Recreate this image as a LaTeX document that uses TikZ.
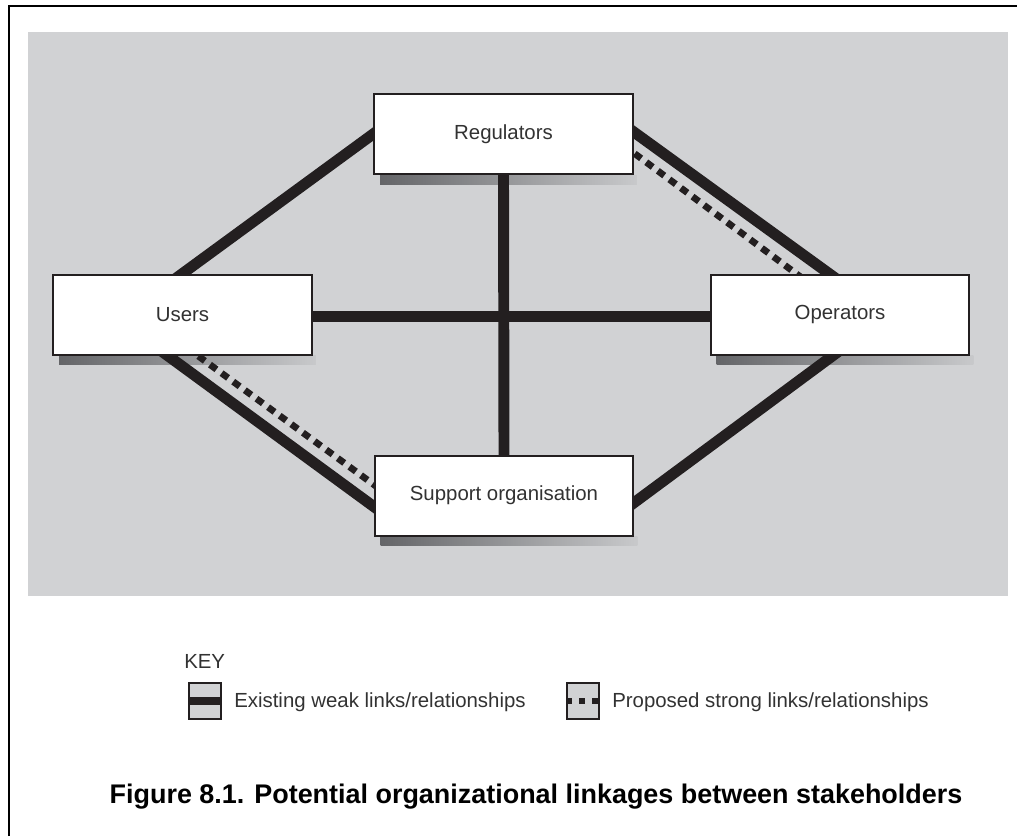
\documentclass[tikz,border=0pt]{standalone}
\usepackage{graphicx}
\usepackage{fontspec}
\setmainfont{Liberation Sans}
\usetikzlibrary{calc}
\pgfdeclarelayer{back}
\pgfdeclarelayer{shade}
\pgfdeclarelayer{links}
\pgfsetlayers{back,shade,links,main}
\definecolor{bggray}{RGB}{209,210,212}
\definecolor{shadowgray}{RGB}{100,101,104}
\definecolor{shadowlight}{RGB}{200,201,203}
\definecolor{linecol}{RGB}{35,31,32}
\definecolor{labelcol}{RGB}{50,50,50}

\begin{document}
\begin{tikzpicture}[x=0.75pt,y=-0.75pt]
\useasboundingbox (0,0) rectangle (1017,836);

\tikzstyle{actor}=[rectangle,draw=linecol,line width=1.5pt,fill=white,minimum width=194pt,minimum height=60pt,inner sep=0pt,text=labelcol,font=\fontsize{15.3pt}{18pt}\selectfont]
\tikzstyle{weak}=[draw=linecol,line width=8.2pt,shorten <=-10pt,shorten >=-10pt]
\tikzstyle{strong}=[draw=linecol,line width=5pt,dash pattern=on 6pt off 4.8pt,shorten <=-10pt,shorten >=-10pt]
\tikzstyle{keybox}=[rectangle,draw=linecol,line width=1.5pt,fill=bggray,minimum width=24pt,minimum height=26.5pt,inner sep=0pt]
\tikzstyle{keytext}=[anchor=west,inner sep=0pt,text=labelcol,font=\fontsize{15.3pt}{18pt}\selectfont]

  \begin{pgfonlayer}{back}
    \fill[bggray] (28,32) rectangle (1008,596);
    \draw[line width=2pt] (9,836) -- (9,6) -- (1017,6);
  \end{pgfonlayer}

  \foreach \name/\x/\y/\text in {Regulators/503.5/134/Regulators, Users/182.5/314.5/Users, Operators/840/314.5/Operators, Support/504/495.5/Support organisation}
    \node[actor] (\name) at (\x,\y) {\text};

  \begin{pgfonlayer}{shade}
    \foreach \name in {Regulators,Users,Operators,Support}
      { \shade[left color=shadowgray,right color=shadowlight] ($(\name.south west)+(7,0)$) rectangle ($(\name.south east)+(3,9)$); }
  \end{pgfonlayer}

  \begin{pgfonlayer}{links}
    \foreach \from/\to in {Users.north/Regulators.west, Regulators.south/Support.north}
      { \draw[weak] (\from) -- (\to); }
    \draw[weak] ($(Users.east)+(0,2)$) -- ($(Operators.west)+(0,2)$);
    \draw[weak] ($(Regulators.east)+(0,-2)$) -- ($(Operators.north)+(-11,0)$);
    \draw[strong] ($(Regulators.east)+(0,19)$) -- ($(Operators.north)+(-44,0)$);
    \draw[weak] ($(Users.south)+(-15,0)$) -- ($(Support.west)+(0,11)$);
    \draw[strong] ($(Users.south)+(15,0)$) -- ($(Support.west)+(0,-11)$);
    \draw[weak] ($(Operators.south)+(-7,0)$) -- ($(Support.east)+(0,7)$);
  \end{pgfonlayer}

  % key
  \node[keytext] (keytitle) at (184,661) {KEY};
  \node[keybox] (keyweak) at (205,701) {};
  \draw[linecol,line width=6.5pt] (keyweak.west) -- (keyweak.east);
  \node[keytext] (weaktext) at (234,702) {Existing weak links/relationships};
  \node[keybox] (keystrong) at (583,701) {};
  \draw[linecol,line width=4pt,dash pattern=on 4.5pt off 5.25pt] (keystrong.west) -- (keystrong.east);
  \node[keytext] (strongtext) at (612,702) {Proposed strong links/relationships};

  \node[font=\fontsize{20.2pt}{24pt}\bfseries\selectfont] (caption) at (536,797) {Figure 8.1. Potential organizational linkages between stakeholders};

\end{tikzpicture}
\end{document}
